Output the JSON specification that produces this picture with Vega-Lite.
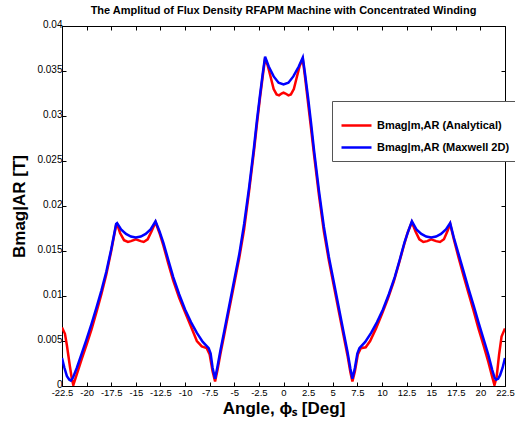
{
  "$schema": "https://vega.github.io/schema/vega-lite/v6.json",
  "width": 443,
  "height": 360,
  "autosize": "none",
  "padding": {"left": 62, "top": 26, "right": 10, "bottom": 39},
  "background": "white",
  "config": {
    "font": "Liberation Sans",
    "view": {"stroke": "#000000", "strokeWidth": 1}
  },
  "title": {
    "text": "The Amplitud of Flux Density RFAPM Machine with Concentrated Winding",
    "fontSize": 11,
    "fontWeight": "bold",
    "font": "Liberation Sans",
    "color": "#000000",
    "anchor": "middle",
    "offset": 3
  },
  "datasets": {
    "analytical": [
      {"a": -22.5, "b": 0.0065}, {"a": -22.2, "b": 0.0058}, {"a": -22.0, "b": 0.0045}, {"a": -21.7, "b": 0.0022},
      {"a": -21.5, "b": 0.0008}, {"a": -21.35, "b": 0.0001}, {"a": -21.0, "b": 0.0013}, {"a": -20.5, "b": 0.0030},
      {"a": -20.0, "b": 0.0046}, {"a": -19.5, "b": 0.0063}, {"a": -19.0, "b": 0.0082}, {"a": -18.5, "b": 0.0102},
      {"a": -18.0, "b": 0.0124}, {"a": -17.5, "b": 0.0150}, {"a": -17.0, "b": 0.0179}, {"a": -16.9, "b": 0.0180},
      {"a": -16.6, "b": 0.0170}, {"a": -16.2, "b": 0.0162}, {"a": -15.8, "b": 0.0160}, {"a": -15.5, "b": 0.0161},
      {"a": -15.0, "b": 0.0163}, {"a": -14.5, "b": 0.0161}, {"a": -14.2, "b": 0.0160}, {"a": -13.8, "b": 0.0163},
      {"a": -13.4, "b": 0.0172}, {"a": -13.0, "b": 0.0182}, {"a": -12.6, "b": 0.0170}, {"a": -12.2, "b": 0.0156},
      {"a": -11.7, "b": 0.0136}, {"a": -11.2, "b": 0.0117}, {"a": -10.6, "b": 0.0098}, {"a": -10.0, "b": 0.0082},
      {"a": -9.4, "b": 0.0066}, {"a": -8.8, "b": 0.0050}, {"a": -8.3, "b": 0.0044}, {"a": -7.8, "b": 0.0042},
      {"a": -7.5, "b": 0.0035}, {"a": -7.2, "b": 0.0016}, {"a": -6.95, "b": 0.0005}, {"a": -6.7, "b": 0.0018},
      {"a": -6.4, "b": 0.0036}, {"a": -6.0, "b": 0.0058}, {"a": -5.5, "b": 0.0086}, {"a": -5.0, "b": 0.0114},
      {"a": -4.5, "b": 0.0142}, {"a": -4.0, "b": 0.0174}, {"a": -3.5, "b": 0.0216}, {"a": -3.0, "b": 0.0261},
      {"a": -2.7, "b": 0.0291}, {"a": -2.4, "b": 0.0319}, {"a": -2.1, "b": 0.0345}, {"a": -1.87, "b": 0.0364},
      {"a": -1.6, "b": 0.0356}, {"a": -1.3, "b": 0.0343}, {"a": -1.0, "b": 0.0330}, {"a": -0.7, "b": 0.0324},
      {"a": -0.45, "b": 0.0323}, {"a": -0.2, "b": 0.0325}, {"a": 0.0, "b": 0.0326}, {"a": 0.2, "b": 0.0325},
      {"a": 0.5, "b": 0.0323}, {"a": 0.75, "b": 0.0324}, {"a": 1.05, "b": 0.0330}, {"a": 1.35, "b": 0.0343},
      {"a": 1.65, "b": 0.0356}, {"a": 1.96, "b": 0.0363}, {"a": 2.2, "b": 0.0342}, {"a": 2.5, "b": 0.0314},
      {"a": 2.8, "b": 0.0286}, {"a": 3.1, "b": 0.0257}, {"a": 3.6, "b": 0.0212}, {"a": 4.1, "b": 0.0172},
      {"a": 4.6, "b": 0.0140}, {"a": 5.1, "b": 0.0112}, {"a": 5.6, "b": 0.0084}, {"a": 6.1, "b": 0.0056},
      {"a": 6.5, "b": 0.0034}, {"a": 6.8, "b": 0.0015}, {"a": 7.0, "b": 0.0005}, {"a": 7.25, "b": 0.0016},
      {"a": 7.55, "b": 0.0035}, {"a": 7.85, "b": 0.0042}, {"a": 8.35, "b": 0.0043}, {"a": 8.8, "b": 0.0050},
      {"a": 9.4, "b": 0.0064}, {"a": 10.0, "b": 0.0080}, {"a": 10.6, "b": 0.0097}, {"a": 11.2, "b": 0.0116},
      {"a": 11.7, "b": 0.0135}, {"a": 12.2, "b": 0.0155}, {"a": 12.6, "b": 0.0170}, {"a": 13.04, "b": 0.0182},
      {"a": 13.4, "b": 0.0172}, {"a": 13.8, "b": 0.0163}, {"a": 14.2, "b": 0.0160}, {"a": 14.6, "b": 0.0161},
      {"a": 15.0, "b": 0.0163}, {"a": 15.5, "b": 0.0161}, {"a": 15.9, "b": 0.0160}, {"a": 16.3, "b": 0.0163},
      {"a": 16.65, "b": 0.0172}, {"a": 16.93, "b": 0.0180}, {"a": 17.3, "b": 0.0163}, {"a": 17.8, "b": 0.0142},
      {"a": 18.3, "b": 0.0122}, {"a": 18.8, "b": 0.0103}, {"a": 19.3, "b": 0.0084}, {"a": 19.8, "b": 0.0064},
      {"a": 20.3, "b": 0.0046}, {"a": 20.8, "b": 0.0027}, {"a": 21.2, "b": 0.0010}, {"a": 21.43, "b": 0.0001},
      {"a": 21.65, "b": 0.0010}, {"a": 21.9, "b": 0.0035}, {"a": 22.15, "b": 0.0055}, {"a": 22.5, "b": 0.0064}
    ],
    "maxwell": [
      {"a": -22.5, "b": 0.0031}, {"a": -22.25, "b": 0.0020}, {"a": -22.0, "b": 0.0011}, {"a": -21.75, "b": 0.0007},
      {"a": -21.6, "b": 0.0006}, {"a": -21.4, "b": 0.0009}, {"a": -21.0, "b": 0.0020}, {"a": -20.5, "b": 0.0036},
      {"a": -20.0, "b": 0.0052}, {"a": -19.5, "b": 0.0069}, {"a": -19.0, "b": 0.0087}, {"a": -18.5, "b": 0.0106},
      {"a": -18.0, "b": 0.0127}, {"a": -17.5, "b": 0.0152}, {"a": -17.0, "b": 0.0180}, {"a": -16.9, "b": 0.0181},
      {"a": -16.5, "b": 0.0174}, {"a": -16.0, "b": 0.0169}, {"a": -15.5, "b": 0.0166}, {"a": -15.0, "b": 0.0165},
      {"a": -14.5, "b": 0.0166}, {"a": -14.0, "b": 0.0169}, {"a": -13.5, "b": 0.0174}, {"a": -13.0, "b": 0.0183},
      {"a": -12.6, "b": 0.0172}, {"a": -12.2, "b": 0.0159}, {"a": -11.7, "b": 0.0140}, {"a": -11.2, "b": 0.0121},
      {"a": -10.6, "b": 0.0102}, {"a": -10.0, "b": 0.0085}, {"a": -9.4, "b": 0.0071}, {"a": -8.8, "b": 0.0059},
      {"a": -8.2, "b": 0.0049}, {"a": -7.6, "b": 0.0042}, {"a": -7.4, "b": 0.0036}, {"a": -7.2, "b": 0.0020},
      {"a": -6.95, "b": 0.0008}, {"a": -6.7, "b": 0.0022}, {"a": -6.4, "b": 0.0040}, {"a": -6.0, "b": 0.0062},
      {"a": -5.5, "b": 0.0090}, {"a": -5.0, "b": 0.0118}, {"a": -4.5, "b": 0.0146}, {"a": -4.0, "b": 0.0180},
      {"a": -3.5, "b": 0.0220}, {"a": -3.0, "b": 0.0265}, {"a": -2.7, "b": 0.0295}, {"a": -2.4, "b": 0.0322},
      {"a": -2.1, "b": 0.0348}, {"a": -1.87, "b": 0.0366}, {"a": -1.5, "b": 0.0355}, {"a": -1.0, "b": 0.0344},
      {"a": -0.5, "b": 0.0337}, {"a": 0.0, "b": 0.0335}, {"a": 0.5, "b": 0.0337}, {"a": 1.0, "b": 0.0344},
      {"a": 1.55, "b": 0.0355}, {"a": 1.96, "b": 0.0365}, {"a": 2.2, "b": 0.0346}, {"a": 2.5, "b": 0.0320},
      {"a": 2.8, "b": 0.0292}, {"a": 3.1, "b": 0.0262}, {"a": 3.6, "b": 0.0217}, {"a": 4.1, "b": 0.0177},
      {"a": 4.6, "b": 0.0144}, {"a": 5.1, "b": 0.0116}, {"a": 5.6, "b": 0.0088}, {"a": 6.1, "b": 0.0060},
      {"a": 6.5, "b": 0.0038}, {"a": 6.8, "b": 0.0019}, {"a": 7.0, "b": 0.0008}, {"a": 7.25, "b": 0.0020},
      {"a": 7.5, "b": 0.0036}, {"a": 7.71, "b": 0.0042}, {"a": 8.3, "b": 0.0049}, {"a": 8.9, "b": 0.0059},
      {"a": 9.5, "b": 0.0071}, {"a": 10.1, "b": 0.0085}, {"a": 10.7, "b": 0.0102}, {"a": 11.3, "b": 0.0121},
      {"a": 11.8, "b": 0.0140}, {"a": 12.3, "b": 0.0160}, {"a": 12.7, "b": 0.0173}, {"a": 13.04, "b": 0.0183},
      {"a": 13.5, "b": 0.0174}, {"a": 14.0, "b": 0.0169}, {"a": 14.5, "b": 0.0166}, {"a": 15.0, "b": 0.0165},
      {"a": 15.5, "b": 0.0166}, {"a": 16.0, "b": 0.0169}, {"a": 16.5, "b": 0.0174}, {"a": 16.93, "b": 0.0181},
      {"a": 17.3, "b": 0.0165}, {"a": 17.8, "b": 0.0146}, {"a": 18.3, "b": 0.0127}, {"a": 18.8, "b": 0.0108},
      {"a": 19.3, "b": 0.0090}, {"a": 19.8, "b": 0.0071}, {"a": 20.3, "b": 0.0053}, {"a": 20.8, "b": 0.0035},
      {"a": 21.2, "b": 0.0018}, {"a": 21.45, "b": 0.0009}, {"a": 21.6, "b": 0.0007}, {"a": 21.8, "b": 0.0008},
      {"a": 22.0, "b": 0.0012}, {"a": 22.25, "b": 0.0020}, {"a": 22.5, "b": 0.0031}
    ]
  },
  "resolve": {"axis": {"x": "independent", "y": "independent"}},
  "layer": [
    {
      "data": {"name": "maxwell"},
      "mark": {"type": "line", "opacity": 0, "clip": true},
      "encoding": {
        "x": {
          "field": "a",
          "type": "quantitative",
          "scale": {"domain": [-22.5, 22.5], "nice": false, "zero": false},
          "axis": {
            "orient": "top",
            "title": null,
            "labels": false,
            "grid": false,
            "domain": false,
            "tickColor": "#000000",
            "tickSize": -4,
            "values": [-22.5, -20, -17.5, -15, -12.5, -10, -7.5, -5, -2.5, 0, 2.5, 5, 7.5, 10, 12.5, 15, 17.5, 20, 22.5]
          }
        },
        "y": {
          "field": "b",
          "type": "quantitative",
          "scale": {"domain": [0, 0.04], "nice": false},
          "axis": {
            "orient": "right",
            "title": null,
            "labels": false,
            "grid": false,
            "domain": false,
            "tickColor": "#000000",
            "tickSize": -4,
            "values": [0, 0.005, 0.01, 0.015, 0.02, 0.025, 0.03, 0.035, 0.04]
          }
        }
      }
    },
    {
      "data": {"name": "analytical"},
      "mark": {"type": "line", "strokeWidth": 2.5, "clip": true},
      "encoding": {
        "x": {
          "field": "a",
          "type": "quantitative",
          "scale": {"domain": [-22.5, 22.5], "nice": false, "zero": false},
          "axis": {
            "orient": "bottom",
            "title": "Angle, ϕₛ [Deg]",
            "titleFontSize": 17,
            "titleFontWeight": "bold",
            "titleColor": "#000000",
            "titlePadding": 4,
            "values": [-22.5, -20, -17.5, -15, -12.5, -10, -7.5, -5, -2.5, 0, 2.5, 5, 7.5, 10, 12.5, 15, 17.5, 20, 22.5],
            "labelExpr": "replace(format(datum.value, '~g'), '\u2212', '-')",
            "labelFontSize": 9.5,
            "labelOverlap": false,
            "labelFlush": false,
            "labelBound": false,
            "labelColor": "#000000",
            "labelPadding": 5,
            "domainColor": "#000000",
            "tickColor": "#000000",
            "tickSize": -4,
            "gridDash": [1, 3],
            "gridColor": "#999999",
            "gridOpacity": 0.8
          }
        },
        "y": {
          "field": "b",
          "type": "quantitative",
          "scale": {"domain": [0, 0.04], "nice": false},
          "axis": {
            "orient": "left",
            "title": "Bmag|AR [T]",
            "titleFontSize": 17,
            "titleFontWeight": "bold",
            "titleColor": "#000000",
            "titlePadding": 8,
            "values": [0, 0.005, 0.01, 0.015, 0.02, 0.025, 0.03, 0.035, 0.04],
            "format": "~g",
            "labelFontSize": 10,
            "labelOverlap": false,
            "labelFlush": false,
            "labelOffset": -2,
            "labelColor": "#000000",
            "labelPadding": 4,
            "domainColor": "#000000",
            "tickColor": "#000000",
            "tickSize": -4,
            "gridDash": [1, 3],
            "gridColor": "#999999",
            "gridOpacity": 0.8
          }
        },
        "color": {
          "datum": "Bmag|m,AR (Analytical)",
          "type": "nominal",
          "scale": {
            "domain": ["Bmag|m,AR (Analytical)", "Bmag|m,AR (Maxwell 2D)"],
            "range": ["#ff0000", "#0000ff"]
          },
          "legend": {
            "title": null,
            "orient": "none",
            "legendX": 270,
            "legendY": 75,
            "symbolType": "stroke",
            "symbolSize": 900,
            "symbolStrokeWidth": 2.5,
            "labelFontSize": 11,
            "labelFontWeight": "bold",
            "labelColor": "#000000",
            "fillColor": "#ffffff",
            "strokeColor": "#555555",
            "padding": 8,
            "rowPadding": 0,
            "labelOffset": 4
          }
        }
      }
    },
    {
      "data": {"name": "maxwell"},
      "mark": {"type": "line", "strokeWidth": 2.5, "clip": true},
      "encoding": {
        "x": {"field": "a", "type": "quantitative", "axis": null},
        "y": {"field": "b", "type": "quantitative", "axis": null},
        "color": {"datum": "Bmag|m,AR (Maxwell 2D)", "type": "nominal"}
      }
    }
  ]
}
